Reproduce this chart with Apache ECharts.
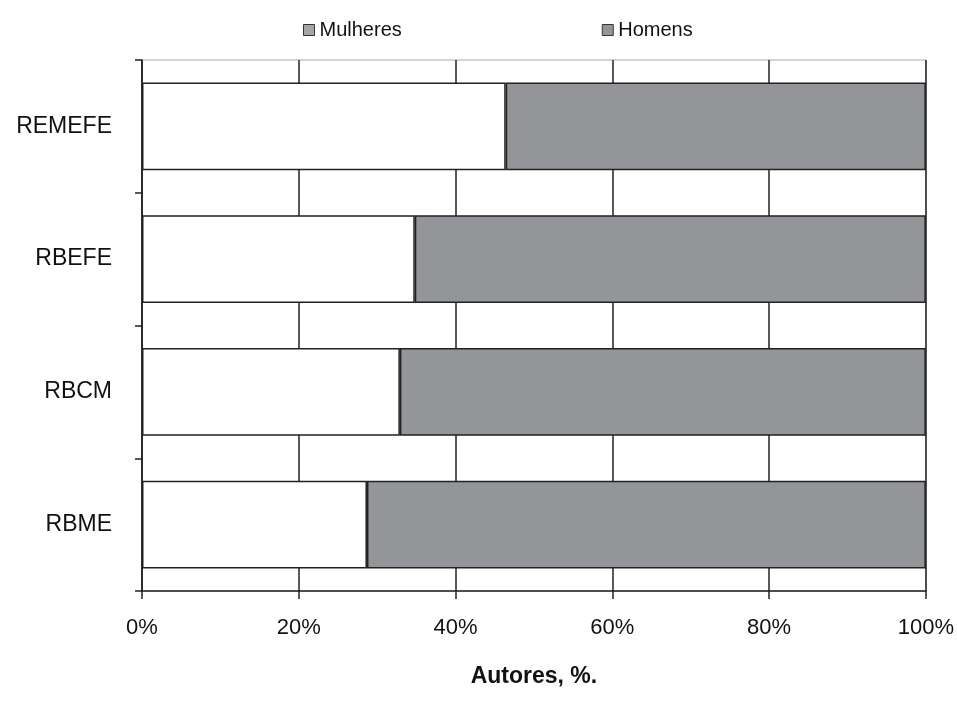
<!DOCTYPE html>
<html><head><meta charset="utf-8">
<script src="https://cdn.jsdelivr.net/npm/echarts@6/dist/echarts.min.js"></script>
<style>html,body{margin:0;padding:0;background:#fff}#c{width:957px;height:704px}</style>
</head><body><div id="c"></div>
<script>
const categories = ['REMEFE', 'RBEFE', 'RBCM', 'RBME'];
const mulheres = [46.4, 34.8, 32.9, 28.7];
const homens = [53.6, 65.2, 67.1, 71.3];
const xTicks = [0, 20, 40, 60, 80, 100];

const chart = echarts.init(document.getElementById('c'));
const font = 'Liberation Sans, Arial, sans-serif';
chart.setOption({
  animation: false,
  textStyle: { fontFamily: font },
  legend: {
    left: 298, top: 15, itemWidth: 11, itemHeight: 11, itemGap: 200,
    textStyle: { fontSize: 20, color: '#111', fontFamily: font },
    data: [
      { name: 'Mulheres', icon: 'rect', itemStyle: { color: '#a5a5a5', borderColor: '#333', borderWidth: 1 } },
      { name: 'Homens', icon: 'rect', itemStyle: { color: '#939598', borderColor: '#333', borderWidth: 1 } }
    ]
  },
  grid: { left: 142, right: 31, top: 60, bottom: 113, show: true, borderColor: '#aaa', borderWidth: 1 },
  xAxis: {
    type: 'value', min: 0, max: 100, interval: 20,
    name: 'Autores, %.', nameLocation: 'middle', nameGap: 74,
    nameTextStyle: { fontSize: 23, fontWeight: 'bold', color: '#111', fontFamily: font },
    axisLine: { show: true, lineStyle: { color: '#222', width: 1.5 } },
    axisTick: { show: true, length: 8, lineStyle: { color: '#222', width: 1.5 } },
    axisLabel: { fontSize: 22, color: '#111', margin: 26, formatter: v => xTicks.includes(v) ? v + '%' : '' },
    splitLine: { show: true, lineStyle: { color: '#222', width: 1.5 } }
  },
  yAxis: {
    type: 'category', data: categories, inverse: true,
    axisLine: { show: true, lineStyle: { color: '#222', width: 1.5 } },
    axisTick: { show: true, length: 7, lineStyle: { color: '#222', width: 1.5 } },
    axisLabel: { fontSize: 23, color: '#111', margin: 30 },
    splitLine: { show: false }
  },
  series: [
    { name: 'Mulheres', type: 'bar', stack: 's', data: mulheres, barWidth: '66%',
      itemStyle: { color: '#ffffff', borderColor: '#222', borderWidth: 1.5 } },
    { name: 'Homens', type: 'bar', stack: 's', data: homens, barWidth: '66%',
      itemStyle: { color: '#939598', borderColor: '#222', borderWidth: 1.5 } }
  ]
});
</script></body></html>
